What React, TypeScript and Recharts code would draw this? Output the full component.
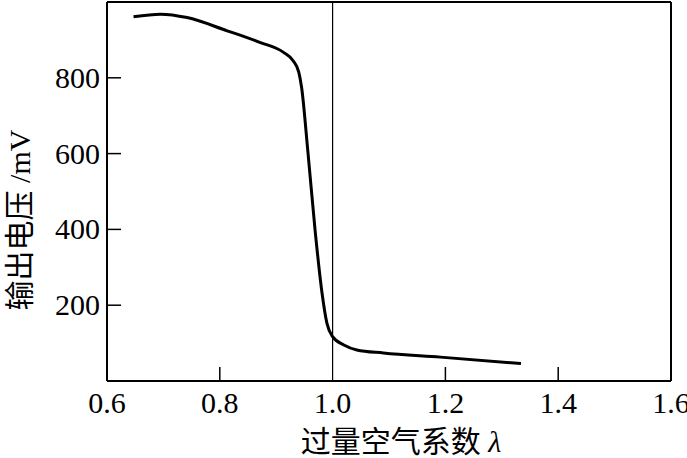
import React from 'react';
import { LineChart, Line, XAxis, YAxis, ReferenceLine } from 'recharts';

const lambdaValues = [0.647, 0.695, 0.742, 0.813, 0.872, 0.913, 0.930, 0.940, 0.945, 0.956, 0.969, 0.981, 0.990, 1.000, 1.020, 1.043, 1.090, 1.191, 1.334];
const voltageValues = [961, 968, 959, 924, 893, 867, 845, 815, 775, 608, 397, 235, 152, 117, 95, 82, 74, 63, 46];
const xTicks = [0.6, 0.8, 1.0, 1.2, 1.4, 1.6];
const yTicks = [200, 400, 600, 800];
const xLabel = '过量空气系数';
const yLabelCjk = '输出电压';
const yLabelUnit = ' /mV';

const data = lambdaValues.map((l, i) => ({ lambda: l, v: voltageValues[i] }));

const NUM_FONT = '"Liberation Serif", "DejaVu Serif", serif';
const CJK_FONT = '"Noto Sans CJK SC", sans-serif';

const XTick = (props: any) => {
  const { x, y, payload } = props;
  const v = payload.value;
  const showLine = v > 0.61 && v < 1.59 && Math.abs(v - 1.0) > 0.01;
  return (
    <g>
      {showLine && <line x1={x} x2={x} y1={y} y2={y - 14} stroke="#000" strokeWidth={1.5} />}
      <text x={x} y={y + 32} textAnchor="middle" fontFamily={NUM_FONT} fontSize={30} fill="#000">
        {Number(v).toFixed(1)}
      </text>
    </g>
  );
};

const YTick = (props: any) => {
  const { x, y, payload } = props;
  return (
    <g>
      <line x1={x} x2={x + 14} y1={y} y2={y} stroke="#000" strokeWidth={1.5} />
      <text x={x - 7} y={y + 10} textAnchor="end" fontFamily={NUM_FONT} fontSize={30} fill="#000">
        {payload.value}
      </text>
    </g>
  );
};

const YLabel = () => (
  <text
    x={0}
    y={0}
    transform="translate(30, 220) rotate(-90)"
    textAnchor="middle"
    fontSize={30}
    fill="#000"
  >
    <tspan fontFamily={CJK_FONT}>{yLabelCjk}</tspan>
    <tspan fontFamily={NUM_FONT}>{yLabelUnit}</tspan>
  </text>
);

const XLabel = () => (
  <text x={401} y={452} textAnchor="middle" fontSize={30} fill="#000">
    <tspan fontFamily={CJK_FONT}>{xLabel}</tspan>
    <tspan fontFamily={NUM_FONT} fontStyle="italic"> λ</tspan>
  </text>
);

export default function App() {
  return (
    <div style={{ position: 'absolute', left: 0, top: 0, width: 687, height: 458, background: '#fff' }}>
      <LineChart width={687} height={458} data={data} margin={{ top: 1, right: 0, left: 0, bottom: 0 }}>
        <XAxis
          dataKey="lambda"
          type="number"
          domain={[0.6, 1.6]}
          ticks={xTicks}
          tickSize={0}
          tickMargin={0}
          tick={<XTick />}
          height={77}
          axisLine={{ stroke: '#000', strokeWidth: 2 }}
          tickLine={false}
          interval={0}
          allowDataOverflow
          label={<XLabel />}
        />
        <XAxis
          xAxisId="top"
          orientation="top"
          dataKey="lambda"
          type="number"
          domain={[0.6, 1.6]}
          height={1}
          tick={false}
          tickLine={false}
          axisLine={{ stroke: '#000', strokeWidth: 2 }}
          allowDataOverflow
        />
        <YAxis
          type="number"
          domain={[0, 1000]}
          ticks={yTicks}
          tickSize={0}
          tickMargin={0}
          tick={<YTick />}
          width={107}
          axisLine={{ stroke: '#000', strokeWidth: 2 }}
          tickLine={false}
          interval={0}
          allowDataOverflow
          label={<YLabel />}
        />
        <YAxis
          yAxisId="right"
          orientation="right"
          type="number"
          domain={[0, 1000]}
          width={16}
          tick={false}
          tickLine={false}
          axisLine={{ stroke: '#000', strokeWidth: 2 }}
          allowDataOverflow
        />
        <ReferenceLine x={1.0} stroke="#000" strokeWidth={1.2} />
        <Line
          type="monotone"
          dataKey="v"
          stroke="#000"
          strokeWidth={3}
          dot={false}
          isAnimationActive={false}
        />
      </LineChart>
    </div>
  );
}
